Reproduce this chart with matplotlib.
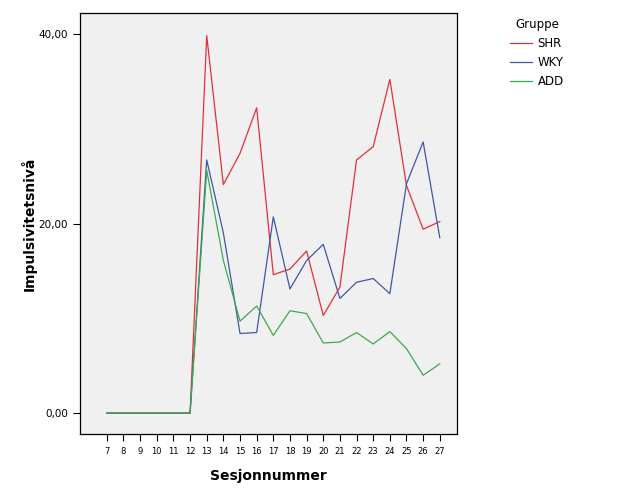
import matplotlib
matplotlib.use("Agg")
import matplotlib.pyplot as plt
from matplotlib.lines import Line2D

sessions = list(range(7, 28))
shr = [0, 0, 0, 0, 0, 0, 39.8, 24.1, 27.4, 32.2, 14.6, 15.2, 17.1, 10.3, 13.3,
       26.7, 28.1, 35.2, 24.0, 19.4, 20.2]
wky = [0, 0, 0, 0, 0, 0, 26.7, 19.0, 8.4, 8.5, 20.7, 13.1, 16.1, 17.8, 12.1,
       13.8, 14.2, 12.6, 24.2, 28.6, 18.5]
add = [0, 0, 0, 0, 0, 0, 25.6, 16.1, 9.7, 11.3, 8.2, 10.8, 10.5, 7.4, 7.5,
       8.5, 7.3, 8.6, 6.8, 4.0, 5.2]
groups = ["SHR", "WKY", "ADD"]
colors = ["#e2303a", "#4356a6", "#3daa4e"]
yticks = [0, 20, 40]

fig = plt.figure(figsize=(6.24, 5), dpi=100)
ax = fig.add_axes([0.128, 0.132, 0.604, 0.842])
ax.set_facecolor("#f0f0f0")

for vals, c in zip([shr, wky, add], colors):
    ax.plot(sessions, vals, color=c, linewidth=0.9)

ax.set_xlim(5.38, 28.02)
ax.set_ylim(-2.2, 42.2)
ax.set_xticks(sessions)
ax.set_xticklabels([str(s) for s in sessions], fontsize=6)
ax.set_yticks(yticks)
ax.set_yticklabels([f"{v:.2f}".replace(".", ",") for v in yticks], fontsize=7.5)
ax.tick_params(axis="both", direction="out", length=5, width=0.8, color="black")
ax.tick_params(axis="x", pad=4)
for s in ax.spines.values():
    s.set_linewidth(0.9)

ax.set_xlabel("Sesjonnummer", fontsize=10, fontweight="bold", labelpad=10)
ax.set_ylabel("Impulsivitetsnivå", fontsize=10, fontweight="bold", labelpad=1.5)

handles = [Line2D([], [], color=c, linewidth=0.9) for c in colors]
leg = fig.legend(handles, groups, title="Gruppe", loc="upper left",
                 bbox_to_anchor=(0.80, 0.985), frameon=False, fontsize=8.5,
                 title_fontsize=8.5, handlelength=1.9, handletextpad=0.45,
                 labelspacing=0.5)

fig.savefig("out.png", dpi=100)
